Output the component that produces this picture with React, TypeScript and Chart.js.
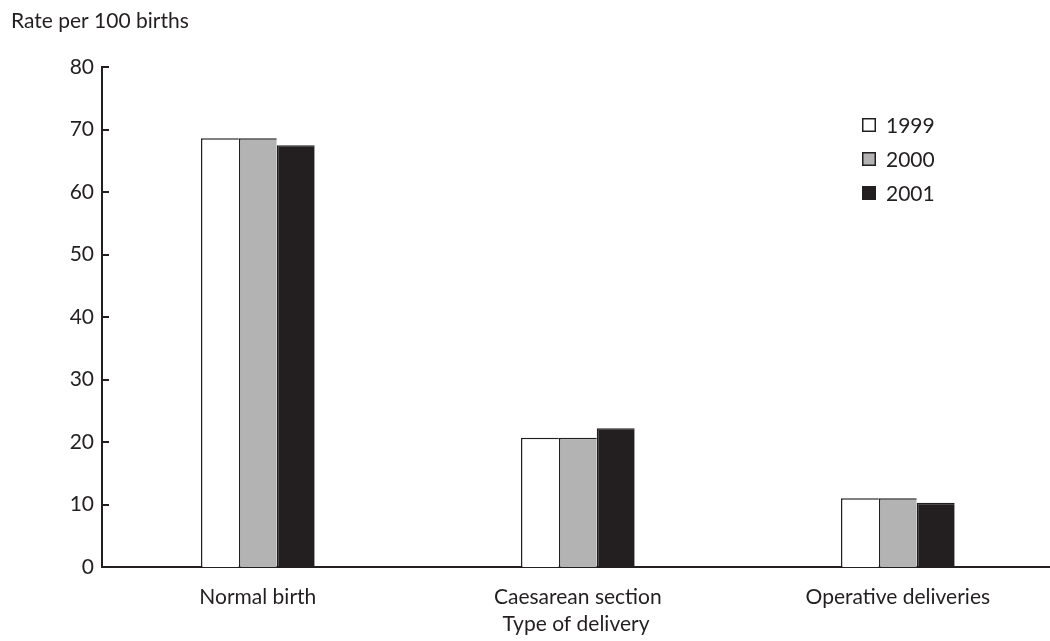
import React, { useEffect, useRef } from 'react';
import { Chart, registerables } from 'chart.js';

Chart.register(...registerables);

const categories = ['Normal birth', 'Caesarean section', 'Operative deliveries'];
const seriesLabels = ['1999', '2000', '2001'];
const values1999 = [68.6, 20.7, 11.0];
const values2000 = [68.6, 20.7, 11.0];
const values2001 = [67.5, 22.2, 10.3];
const seriesColors = ['#ffffff', '#b3b3b3', '#231f20'];
const yTicks = [0, 10, 20, 30, 40, 50, 60, 70, 80];
const yTitle = 'Rate per 100 births';
const xTitle = 'Type of delivery';

const INK = '#231f20';
const FONT = 'Lato';

const overlayPlugin = {
  id: 'overlay',
  afterDraw(chart: any) {
    const ctx = chart.ctx;
    const y = chart.scales.y;
    const area = chart.chartArea;
    ctx.save();
    // inward ticks on the y axis
    ctx.strokeStyle = INK;
    ctx.lineWidth = 2;
    y.ticks.forEach((t: any) => {
      if (t.value === 0) return;
      const py = Math.round(y.getPixelForValue(t.value));
      ctx.beginPath();
      ctx.moveTo(area.left, py);
      ctx.lineTo(area.left + 7, py);
      ctx.stroke();
    });
    // y title
    ctx.fillStyle = INK;
    ctx.font = `21px ${FONT}`;
    ctx.textBaseline = 'alphabetic';
    ctx.textAlign = 'left';
    ctx.fillText(yTitle, 11, 28);
    // legend
    const lx = 862;
    const rows = [125, 159, 193];
    chart.data.datasets.forEach((ds: any, i: number) => {
      const cy = rows[i];
      ctx.fillStyle = ds.backgroundColor;
      ctx.fillRect(lx, cy - 7, 14, 14);
      ctx.lineWidth = 1.5;
      ctx.strokeStyle = INK;
      ctx.strokeRect(lx + 0.75, cy - 6.25, 12.5, 12.5);
      ctx.fillStyle = INK;
      ctx.textBaseline = 'middle';
      ctx.fillText(ds.label, lx + 24, cy + 1);
    });
    ctx.restore();
  },
};

export default function App() {
  const ref = useRef<HTMLCanvasElement | null>(null);
  useEffect(() => {
    if (!ref.current) return;
    const allValues = [values1999, values2000, values2001];
    const chart = new Chart(ref.current, {
      type: 'bar',
      data: {
        datasets: seriesLabels.map((lab, i) => ({
          label: lab,
          data: allValues[i].map((v, j) => ({ x: j + 1, y: v })),
          backgroundColor: seriesColors[i],
          borderColor: INK,
          borderWidth: { top: 1.5, left: 1.5, right: 0, bottom: 0 },
          borderSkipped: false,
          categoryPercentage: 0.3553,
          barPercentage: 1,
        })),
      },
      options: {
        responsive: false,
        animation: false,
        layout: { padding: { left: 0, right: 0, top: 67, bottom: 0 } },
        plugins: { legend: { display: false }, tooltip: { enabled: false }, title: { display: false } },
        scales: {
          x: {
            type: 'linear',
            min: 0.5131,
            max: 3.4756,
            offset: false,
            z: 1,
            grid: { display: false, drawTicks: false, offset: false },
            border: { display: true, color: INK, width: 2 },
            afterBuildTicks: (s: any) => {
              s.ticks = categories.map((_, i) => ({ value: i + 1 }));
            },
            afterFit: (s: any) => {
              s.height = 74;
              s.paddingLeft = 0;
              s.paddingRight = 0;
            },
            ticks: {
              padding: 18,
              color: INK,
              font: { family: FONT, size: 21 },
              maxRotation: 0,
              autoSkip: false,
              callback: (v: any) => categories[Math.round(v) - 1] ?? '',
            },
            title: {
              display: true,
              text: xTitle,
              color: INK,
              font: { family: FONT, size: 21 },
              padding: { top: 2, bottom: 4 },
            },
          },
          y: {
            min: 0,
            max: 80,
            grid: { display: false, drawTicks: false },
            border: { display: true, color: INK, width: 2 },
            afterBuildTicks: (s: any) => {
              s.ticks = yTicks.map((v) => ({ value: v }));
            },
            afterFit: (s: any) => {
              s.width = 102;
            },
            ticks: {
              padding: 8,
              color: INK,
              font: { family: FONT, size: 21 },
            },
          },
        },
      },
      plugins: [overlayPlugin],
    });
    return () => chart.destroy();
  }, []);
  return (
    <div style={{ position: 'absolute', left: 0, top: 0, width: 1050, height: 641, background: '#fff' }}>
      <canvas ref={ref} width={1050} height={641} />
    </div>
  );
}
